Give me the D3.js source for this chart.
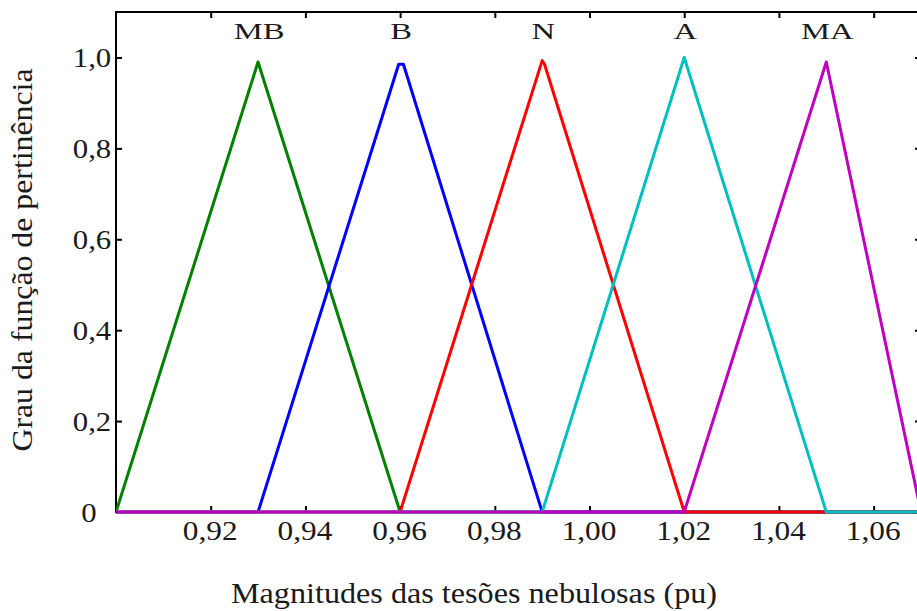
<!DOCTYPE html>
<html><head><meta charset="utf-8">
<script src="https://cdn.jsdelivr.net/npm/d3@7"></script>
<style>
body{margin:0;background:#fff;}
</style></head>
<body><svg id="c" width="917" height="611" style="font-family:'Liberation Serif','Times New Roman',Times,serif"></svg>
<script>
const seriesNames = ["MB","B","N","A","MA"];
const seriesColors = ["#008000","#0000ff","#ff0000","#00bfbf","#bf00bf"];
// membership function vertices [x, μ]
const mbPoints = [[0.90,0],[0.93,0.99],[0.96,0],[1.07,0]];
const bPoints  = [[0.90,0],[0.93,0],[0.9597,0.985],[0.9607,0.985],[0.99,0],[1.07,0]];
const nPoints  = [[0.90,0],[0.96,0],[0.99,0.993],[0.9905,0.985],[1.02,0],[1.07,0]];
const aPoints  = [[0.90,0],[0.99,0],[1.02,1.0],[1.05,0],[1.07,0]];
const maPoints = [[0.90,0],[1.02,0],[1.05,0.99],[1.07,0]];
const peakX = [0.93,0.96,0.99,1.02,1.05];
const xTicks = [0.92,0.94,0.96,0.98,1.00,1.02,1.04,1.06];
const yTicks = [0,0.2,0.4,0.6,0.8,1.0];
const xTitle = "Magnitudes das tesões nebulosas (pu)";
const yTitle = "Grau da função de pertinência";

const FONT = "'Liberation Serif','Times New Roman',Times,serif";
const INK = "#1a1a1a";
const allSeries = [mbPoints,bPoints,nPoints,aPoints,maPoints];
const svg = d3.select("#c");
const L=116, R=921, T=12, B=512;
const x = d3.scaleLinear().domain([0.90,1.07]).range([L,R]);
const y = d3.scaleLinear().domain([0,1.1]).range([B,T]);
const fmtX = d => d3.format(".2f")(d).replace(".",",");
const fmtY = d => d===0 ? "0" : d3.format(".1f")(d).replace(".",",");

svg.append("rect").attr("x",L).attr("y",T).attr("width",R-L).attr("height",B-T)
  .attr("fill","none").attr("stroke","#000").attr("stroke-width",2);

const gx = svg.append("g").attr("transform",`translate(0,${B})`)
  .call(d3.axisBottom(x).tickValues(xTicks).tickSizeInner(-6).tickSizeOuter(0).tickFormat(fmtX));
const gxt = svg.append("g").attr("transform",`translate(0,${T})`)
  .call(d3.axisTop(x).tickValues(xTicks).tickSizeInner(-6).tickSizeOuter(0).tickFormat(""));
const gy = svg.append("g").attr("transform",`translate(${L},0)`)
  .call(d3.axisLeft(y).tickValues(yTicks).tickSizeInner(-6).tickSizeOuter(0).tickFormat(fmtY));
const gyr = svg.append("g").attr("transform",`translate(${R},0)`)
  .call(d3.axisRight(y).tickValues(yTicks).tickSizeInner(-6).tickSizeOuter(0).tickFormat(""));
[gx,gxt,gy,gyr].forEach(g=>{
  g.attr("font-family",null).attr("font-size",null);
  g.select(".domain").remove();
  g.selectAll(".tick line").attr("stroke","#000").attr("stroke-width",2);
  g.selectAll("text").style("font-family",FONT).style("font-size","27px").attr("fill",INK)
    .attr("x",0).attr("y",0).attr("dy",0).attr("text-anchor","middle");
});
gx.selectAll("text").attr("transform","translate(-1,27.5) scale(1.16,1)");
gy.selectAll("text").attr("transform",d=>`translate(${d===0?-27:-24},9) scale(1.14,1)`);

const line = d3.line().x(d=>x(d[0])).y(d=>y(d[1]));
svg.append("defs").append("clipPath").attr("id","clip")
  .append("rect").attr("x",L).attr("y",0).attr("width",R-L).attr("height",B+4);
svg.append("g").attr("clip-path","url(#clip)").selectAll("path").data(allSeries).join("path")
  .attr("d",line).attr("fill","none")
  .attr("stroke",(d,i)=>seriesColors[i]).attr("stroke-width",3).attr("stroke-linejoin","round");

svg.append("g").selectAll("text").data(seriesNames).join("text")
  .attr("transform",(d,i)=>`translate(${x(peakX[i])+1},38.5) scale(1.42,1)`).attr("text-anchor","middle")
  .style("font-family",FONT).style("font-size","23px").attr("fill",INK).text(d=>d);

svg.append("text").attr("transform","translate(474,602.5) scale(1.11,1)").attr("text-anchor","middle")
  .style("font-family",FONT).style("font-size","29px").attr("fill",INK).text(xTitle);
svg.append("text").attr("transform","translate(32,260) rotate(-90) scale(1.06,1)").attr("text-anchor","middle")
  .style("font-family",FONT).style("font-size","30px").attr("fill",INK).text(yTitle);
</script></body></html>
